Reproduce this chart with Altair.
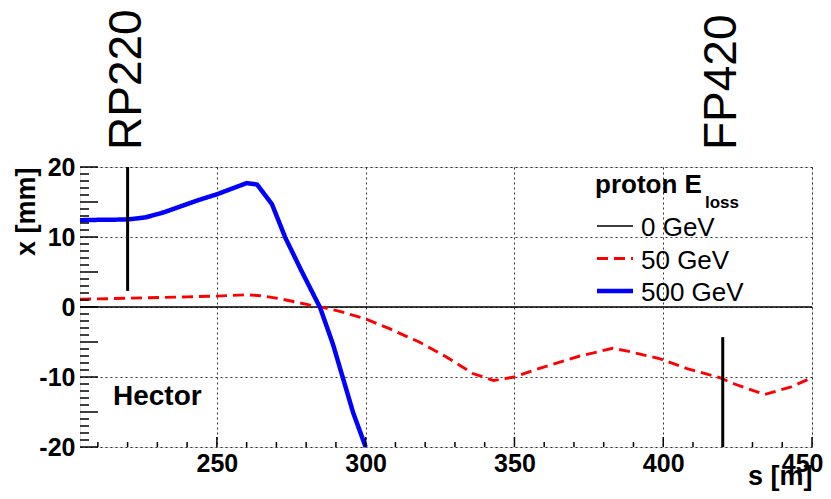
import altair as alt
import pandas as pd

FONT = "Liberation Sans"

# ---- data ----
series_labels = ["0 GeV", "50 GeV", "500 GeV"]
series_colors = ["#000000", "#ff0000", "#0000ff"]

s_0 = [204, 450]
x_0 = [0.0, 0.0]

s_50 = [204, 220, 240, 250, 260, 265, 271, 281, 286, 292, 300, 308, 318, 327,
        336, 343, 350, 356, 362, 372, 383, 388, 399, 408, 419, 424, 434, 443, 450]
x_50 = [1.1, 1.25, 1.45, 1.55, 1.75, 1.6, 1.2, 0.3, -0.1, -0.7, -1.7, -3.1, -5.0, -7.1,
        -9.5, -10.5, -10.0, -9.1, -8.3, -7.0, -5.9, -6.3, -7.4, -8.8, -10.1, -11.0, -12.5, -11.4, -10.1]

s_500 = [204, 210, 220, 226, 232, 238, 244, 250, 255, 260, 263.5, 268.5, 273, 278.5,
         284.7, 289, 295.8, 300]
x_500 = [12.4, 12.45, 12.5, 12.8, 13.5, 14.4, 15.3, 16.1, 16.9, 17.7, 17.5, 14.7, 9.9, 5.1,
         -0.1, -5.3, -15.1, -20]

det_names = ["RP220", "FP420"]
det_s = [220, 420]
det_top = [20, -4.3]
det_bottom = [2.3, -20]

x_ticks = [250, 300, 350, 400, 450]
y_ticks = [-20, -15, -10, -5, 0, 5, 10, 15, 20]
x_minor = [v for v in range(210, 450, 10) if v not in x_ticks]
y_minor = [v for v in range(-19, 20) if v not in y_ticks]

W, H = 732, 280
XDOM = [204, 450]
YDOM = [-20, 20]

rows = []
for lab, ss, xx in zip(series_labels, [s_0, s_50, s_500], [x_0, x_50, x_500]):
    for i, (a, b) in enumerate(zip(ss, xx)):
        rows.append({"series": lab, "s": a, "x": b, "order": i})
df = pd.DataFrame(rows)

xs = alt.Scale(domain=XDOM, nice=False, zero=False)
ys = alt.Scale(domain=YDOM, nice=False, zero=False)

xaxis = alt.Axis(values=x_ticks, title="s [m]", labelFont=FONT, labelFontSize=25,
                 labelFontWeight="bold", labelColor="black", labelPadding=4,
                 labelFlush=True, labelFlushOffset=11, ticks=False, domain=False, grid=True,
                 gridColor="black", gridOpacity=0.8, gridDash=[2, 3], gridWidth=1,
                 labelExpr="datum.value + ''",
                 titleFont=FONT, titleFontSize=27, titleFontWeight="bold", titleColor="black",
                 titleAnchor="end", titleAlign="right", titleBaseline="alphabetic",
                 titleX=W, titleY=37)
yaxis = alt.Axis(values=y_ticks, title="x [mm]", labelFont=FONT, labelFontSize=25,
                 labelFontWeight="bold", labelColor="black", labelPadding=5,
                 labelFlush=False, ticks=False, domain=False, grid=True,
                 gridColor="black", gridOpacity=0.8, gridDash=[2, 3], gridWidth=1,
                 labelExpr="datum.value + ''",
                 titleFont=FONT, titleFontSize=27, titleFontWeight="bold", titleColor="black",
                 titleAngle=270, titleAlign="right", titleBaseline="middle",
                 titleX=-54, titleY=0)

base = alt.Chart(df)
lines = base.mark_line(strokeCap="butt").encode(
    x=alt.X("s:Q", scale=xs, axis=xaxis),
    y=alt.Y("x:Q", scale=ys, axis=yaxis),
    color=alt.Color("series:N", scale=alt.Scale(domain=series_labels, range=series_colors), legend=None),
    strokeDash=alt.StrokeDash("series:N", scale=alt.Scale(domain=series_labels, range=[[1, 0], [11, 6], [1, 0]]), legend=None),
    strokeWidth=alt.StrokeWidth("series:N", scale=alt.Scale(domain=series_labels, range=[1.3, 4.5, 4]), legend=None),
    order="order:Q",
)

det_df = pd.DataFrame({"name": det_names, "s": det_s, "top": det_top, "bottom": det_bottom})
det_rules = alt.Chart(det_df).mark_rule(color="black", strokeWidth=3).encode(
    x=alt.X("s:Q", scale=xs), y=alt.Y("top:Q", scale=ys), y2="bottom:Q")
det_text = alt.Chart(det_df).mark_text(font=FONT, fontSize=46, angle=270, align="left",
                                       baseline="middle", color="black", dy=-1).encode(
    x=alt.X("s:Q", scale=xs), y=alt.value(-17), text="name:N")

# inward ticks
xmaj = alt.Chart(pd.DataFrame({"v": x_ticks})).mark_rule(color="black", strokeWidth=1.5).encode(
    x=alt.X("v:Q", scale=xs), y=alt.value(H), y2=alt.value(H - 10))
xmin = alt.Chart(pd.DataFrame({"v": x_minor})).mark_rule(color="black", strokeWidth=1.5).encode(
    x=alt.X("v:Q", scale=xs), y=alt.value(H), y2=alt.value(H - 5))
ymaj = alt.Chart(pd.DataFrame({"v": y_ticks})).mark_rule(color="black", strokeWidth=1.5).encode(
    y=alt.Y("v:Q", scale=ys), x=alt.value(0), x2=alt.value(18))
ymin = alt.Chart(pd.DataFrame({"v": y_minor})).mark_rule(color="black", strokeWidth=1.5).encode(
    y=alt.Y("v:Q", scale=ys), x=alt.value(0), x2=alt.value(9))

hector = alt.Chart(pd.DataFrame({"t": ["Hector"]})).mark_text(
    font=FONT, fontSize=28, fontWeight="bold", align="left", baseline="alphabetic", color="black"
).encode(x=alt.value(33), y=alt.value(238), text="t:N")

# legend
leg_df = pd.DataFrame({"label": series_labels, "ly": [59, 91.5, 124]})
leg_lines = alt.Chart(leg_df).mark_rule(strokeCap="butt").encode(
    x=alt.value(517), x2=alt.value(553), y=alt.Y("ly:Q", scale=None),
    color=alt.Color("label:N", scale=alt.Scale(domain=series_labels, range=series_colors), legend=None),
    strokeDash=alt.StrokeDash("label:N", scale=alt.Scale(domain=series_labels, range=[[1, 0], [8, 5], [1, 0]]), legend=None),
    strokeWidth=alt.StrokeWidth("label:N", scale=alt.Scale(domain=series_labels, range=[1.5, 4, 3.5]), legend=None),
)
leg_text = alt.Chart(leg_df).mark_text(font=FONT, fontSize=26, align="left", baseline="middle",
                                       color="black", dy=2).encode(
    x=alt.value(561), y=alt.Y("ly:Q", scale=None), text="label:N")
leg_title = alt.Chart(pd.DataFrame({"t": ["proton E"]})).mark_text(
    font=FONT, fontSize=26, fontWeight="bold", align="left", baseline="alphabetic", color="black"
).encode(x=alt.value(515), y=alt.value(26), text="t:N")
leg_sub = alt.Chart(pd.DataFrame({"t": ["loss"]})).mark_text(
    font=FONT, fontSize=17, fontWeight="bold", align="left", baseline="alphabetic", color="black"
).encode(x=alt.value(625), y=alt.value(41), text="t:N")

chart = alt.layer(lines, det_rules, det_text, xmaj, xmin, ymaj, ymin, hector,
                  leg_lines, leg_text, leg_title, leg_sub).properties(
    width=W, height=H,
    autosize=alt.AutoSizeParams(type="none"),
    padding={"left": 72, "top": 159, "right": 11, "bottom": 44},
).configure_view(stroke="black", strokeWidth=2).configure(background="white")

chart.save("out.html", embed_options={"renderer": "svg", "actions": False})
